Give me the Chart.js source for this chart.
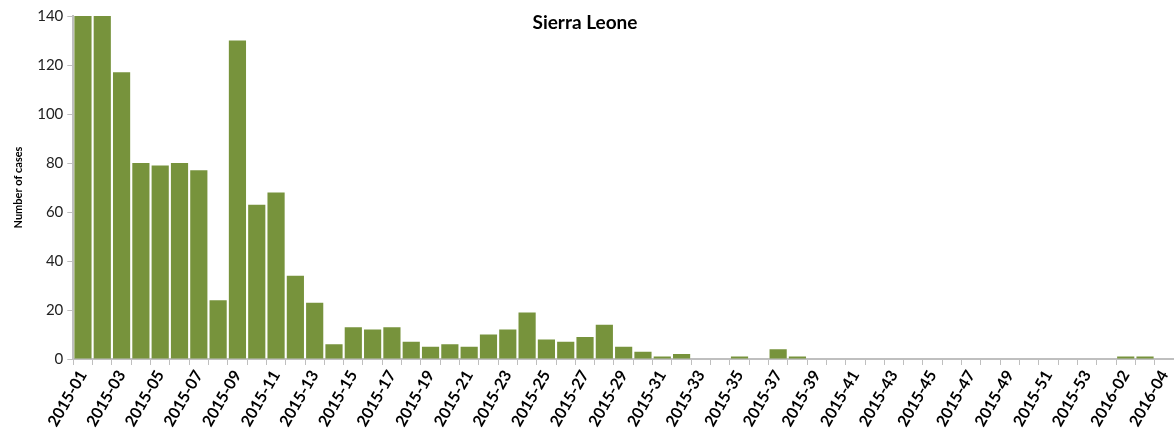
<!DOCTYPE html>
<html lang="en">
<head>
    <meta charset="UTF-8">
    <title>Sierra Leone - Number of cases</title>
    <script src="https://cdn.jsdelivr.net/npm/chart.js"></script>
    <style>
        body {
            margin: 0;
            background: #ffffff;
        }
        .chart-container {
            width: 1174px;
            height: 432px;
        }
    </style>
</head>
<body>
    <div class="chart-container">
        <canvas id="casesChart"></canvas>
    </div>

    <script>
        // weeks 2015-01 .. 2015-53, 2016-01 .. 2016-04
        const weeks2015 = ['2015-01', '2015-02', '2015-03', '2015-04', '2015-05', '2015-06', '2015-07', '2015-08', '2015-09', '2015-10',
            '2015-11', '2015-12', '2015-13', '2015-14', '2015-15', '2015-16', '2015-17', '2015-18', '2015-19', '2015-20',
            '2015-21', '2015-22', '2015-23', '2015-24', '2015-25', '2015-26', '2015-27', '2015-28', '2015-29', '2015-30',
            '2015-31', '2015-32', '2015-33', '2015-34', '2015-35', '2015-36', '2015-37', '2015-38', '2015-39', '2015-40',
            '2015-41', '2015-42', '2015-43', '2015-44', '2015-45', '2015-46', '2015-47', '2015-48', '2015-49', '2015-50',
            '2015-51', '2015-52', '2015-53'];
        const weeks2016 = ['2016-01', '2016-02', '2016-03', '2016-04'];
        const weeks = weeks2015.concat(weeks2016);

        const cases2015 = [140, 140, 117, 80, 79, 80, 77, 24, 130, 63,
            68, 34, 23, 6, 13, 12, 13, 7, 5, 6,
            5, 10, 12, 19, 8, 7, 9, 14, 5, 3,
            1, 2, 0, 0, 1, 0, 4, 1, 0, 0,
            0, 0, 0, 0, 0, 0, 0, 0, 0, 0,
            0, 0, 0];
        const cases2016 = [0, 1, 1, 0];
        const cases = cases2015.concat(cases2016);

        const yTicks = [0, 20, 40, 60, 80, 100, 120, 140];

        const titlePlugin = {
            id: 'innerTitle',
            afterDraw(chart) {
                const ctx = chart.ctx;
                ctx.save();
                ctx.font = 'bold 19px Lato, "Open Sans", sans-serif';
                ctx.fillStyle = '#000000';
                ctx.textAlign = 'center';
                ctx.textBaseline = 'middle';
                ctx.fillText('Sierra Leone', 585, 23);
                ctx.restore();
            }
        };

        const ctx = document.getElementById('casesChart').getContext('2d');
        new Chart(ctx, {
            type: 'bar',
            data: {
                labels: weeks,
                datasets: [{
                    data: cases,
                    backgroundColor: '#77933C',
                    barPercentage: 0.89,
                    categoryPercentage: 1.0
                }]
            },
            options: {
                responsive: true,
                maintainAspectRatio: false,
                animation: false,
                layout: {
                    padding: { top: 16, right: 0, left: 12, bottom: 0 }
                },
                plugins: {
                    legend: { display: false },
                    tooltip: { enabled: false },
                    title: { display: false }
                },
                scales: {
                    x: {
                        offset: true,
                        afterFit: function (scale) {
                            // let the axis run to the right edge like the original
                            scale.paddingRight = 0;
                        },
                        grid: {
                            display: true,
                            offset: true,
                            drawOnChartArea: false,
                            color: '#bfbfbf',
                            tickLength: 6
                        },
                        border: { color: '#bfbfbf', width: 2 },
                        ticks: {
                            autoSkip: false,
                            maxRotation: 60,
                            minRotation: 60,
                            padding: 2,
                            color: '#000000',
                            font: { family: 'Lato, "Open Sans", sans-serif', size: 16, weight: 'bold' },
                            callback: function (value, index) {
                                return index % 2 === 0 ? weeks[index] : '';
                            }
                        }
                    },
                    y: {
                        min: 0,
                        max: 140,
                        afterBuildTicks: function (axis) {
                            axis.ticks = yTicks.map(v => ({ value: v }));
                        },
                        grid: {
                            display: true,
                            drawOnChartArea: false,
                            color: '#bfbfbf',
                            tickLength: 6
                        },
                        border: { color: '#bfbfbf', width: 2 },
                        title: {
                            display: true,
                            text: 'Number of cases',
                            color: '#000000',
                            font: { family: 'Lato, "Open Sans", sans-serif', size: 11, weight: 'bold' },
                            padding: { top: 0, bottom: 8 }
                        },
                        ticks: {
                            color: '#222222',
                            padding: 4,
                            font: { family: 'Lato, "Open Sans", sans-serif', size: 15 }
                        }
                    }
                }
            },
            plugins: [titlePlugin]
        });
    </script>
</body>
</html>
